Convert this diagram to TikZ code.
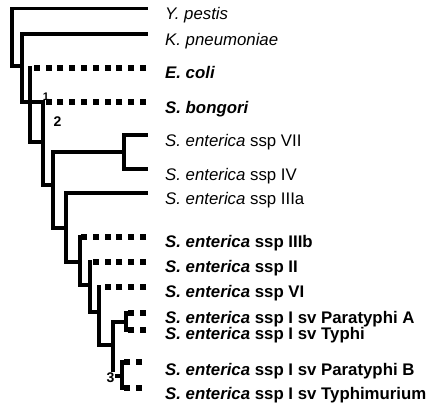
\documentclass[tikz,border=0pt]{standalone}
\usepackage{fontspec}
\setmainfont{Liberation Sans}
\tikzset{
  branch/.style={line width=3.4pt, line cap=rect, line join=miter},
  novel/.style={line width=6pt, dash pattern=on 6pt off 5.8pt},
  taxon/.style={anchor=base west, inner sep=0pt, font=\fontsize{16.8}{19}\selectfont},
  clade/.style={inner sep=0pt, font=\bfseries\fontsize{14}{16}\selectfont}
}
\begin{document}
\begin{tikzpicture}[x=1pt,y=-1pt]
\useasboundingbox (0,0) rectangle (432,408);
% taxa
\node[taxon] (lyp) at (165,19.5) {\textit{Y. pestis}};
\node[taxon] (lkp) at (165,45.5) {\textit{K. pneumoniae}};
\node[taxon] (lec) at (165,78.5) {\textbf{\textit{E. coli}}};
\node[taxon] (lsb) at (165,113) {\textbf{\textit{S. bongori}}};
\node[taxon] (ls7) at (165,146) {\textit{S. enterica} ssp VII};
\node[taxon] (ls4) at (165,180) {\textit{S. enterica} ssp IV};
\node[taxon] (ls3a) at (165,204.5) {\textit{S. enterica} ssp IIIa};
\node[taxon] (ls3b) at (165,247.5) {\textbf{\textit{S. enterica} ssp IIIb}};
\node[taxon] (ls2) at (165,272) {\textbf{\textit{S. enterica} ssp II}};
\node[taxon] (ls6) at (165,297.5) {\textbf{\textit{S. enterica} ssp VI}};
\node[taxon] (lpa) at (165,323.5) {\textbf{\textit{S. enterica} ssp I sv Paratyphi A}};
\node[taxon] (lty) at (165,339.5) {\textbf{\textit{S. enterica} ssp I sv Typhi}};
\node[taxon] (lpb) at (165,375) {\textbf{\textit{S. enterica} ssp I sv Paratyphi B}};
\node[taxon] (ltm) at (165,399.5) {\textbf{\textit{S. enterica} ssp I sv Typhimurium}};
% branch tips
\coordinate (yp) at (146,8.5);
\coordinate (kp) at (146,34);
\coordinate (ec) at (146,68);
\coordinate (sb) at (146,101.5);
\coordinate (s7) at (146,135);
\coordinate (s4) at (146,169);
\coordinate (s3a) at (146,193);
\coordinate (s3b) at (146,237);
\coordinate (s2) at (146,261.5);
\coordinate (s6) at (146,287);
\coordinate (pa) at (146,313);
\coordinate (ty) at (146,330);
\coordinate (pb) at (142,362);
\coordinate (tm) at (142,388);
% inner nodes
\coordinate (a0) at (12,66);
\coordinate (a1) at (22,102);
\coordinate (e0) at (30,142);
\coordinate (b0) at (43,185);
\coordinate (c0) at (53,228);
\coordinate (d0) at (124,152);
\coordinate (f0) at (66,262);
\coordinate (g0) at (80,285);
\coordinate (h0) at (90,312);
\coordinate (i0) at (99,345);
\coordinate (j0) at (113,376);
\coordinate (k0) at (126,322);
\coordinate (m0) at (122,376);
% tree
\draw[branch] (yp) -| (a0) -- (a0 -| a1);
\draw[branch] (kp) -| (a1) -- (a1 -| b0);
\draw[branch] (ec -| e0) -- (e0) -- (e0 -| b0);
\draw[branch] (sb -| b0) -- (b0) -- (b0 -| c0);
\draw[branch] (d0) -| (c0) -- (c0 -| f0);
\draw[branch] (s7) -| (d0) |- (s4);
\draw[branch] (s3a) -| (f0) -- (f0 -| g0);
\draw[branch] (s3b -| g0) -- (g0) -- (g0 -| h0);
\draw[branch] (s2 -| h0) -- (h0) -- (h0 -| i0);
\draw[branch] (s6 -| i0) -- (i0) -- (i0 -| j0);
\draw[branch] (k0) -| (j0) -- (m0);
\draw[branch] (pa -| k0) -- (ty -| k0);
\draw[branch] (pb -| m0) -- (tm -| m0);
% new sequences
\draw[novel] (ec) -- (ec -| e0);
\draw[novel] (sb) -- (sb -| b0);
\draw[novel] (s3b) -- (s3b -| g0);
\draw[novel] (s2) -- (s2 -| h0);
\draw[novel] (s6) -- (s6 -| i0);
\draw[novel] (pa) -- (pa -| k0);
\draw[novel] (ty) -- (ty -| k0);
\draw[novel] (pb) -- (pb -| m0);
\draw[novel] (tm) -- (tm -| m0);
% clade numbers
\node[clade, font=\bfseries\fontsize{11}{12}\selectfont] (c1) at (46,97) {1};
\node[clade] (c2) at (57.5,122) {2};
\node[clade, fill=white, inner sep=0.5pt] (c3) at (110.5,377.5) {3};
\end{tikzpicture}
\end{document}
